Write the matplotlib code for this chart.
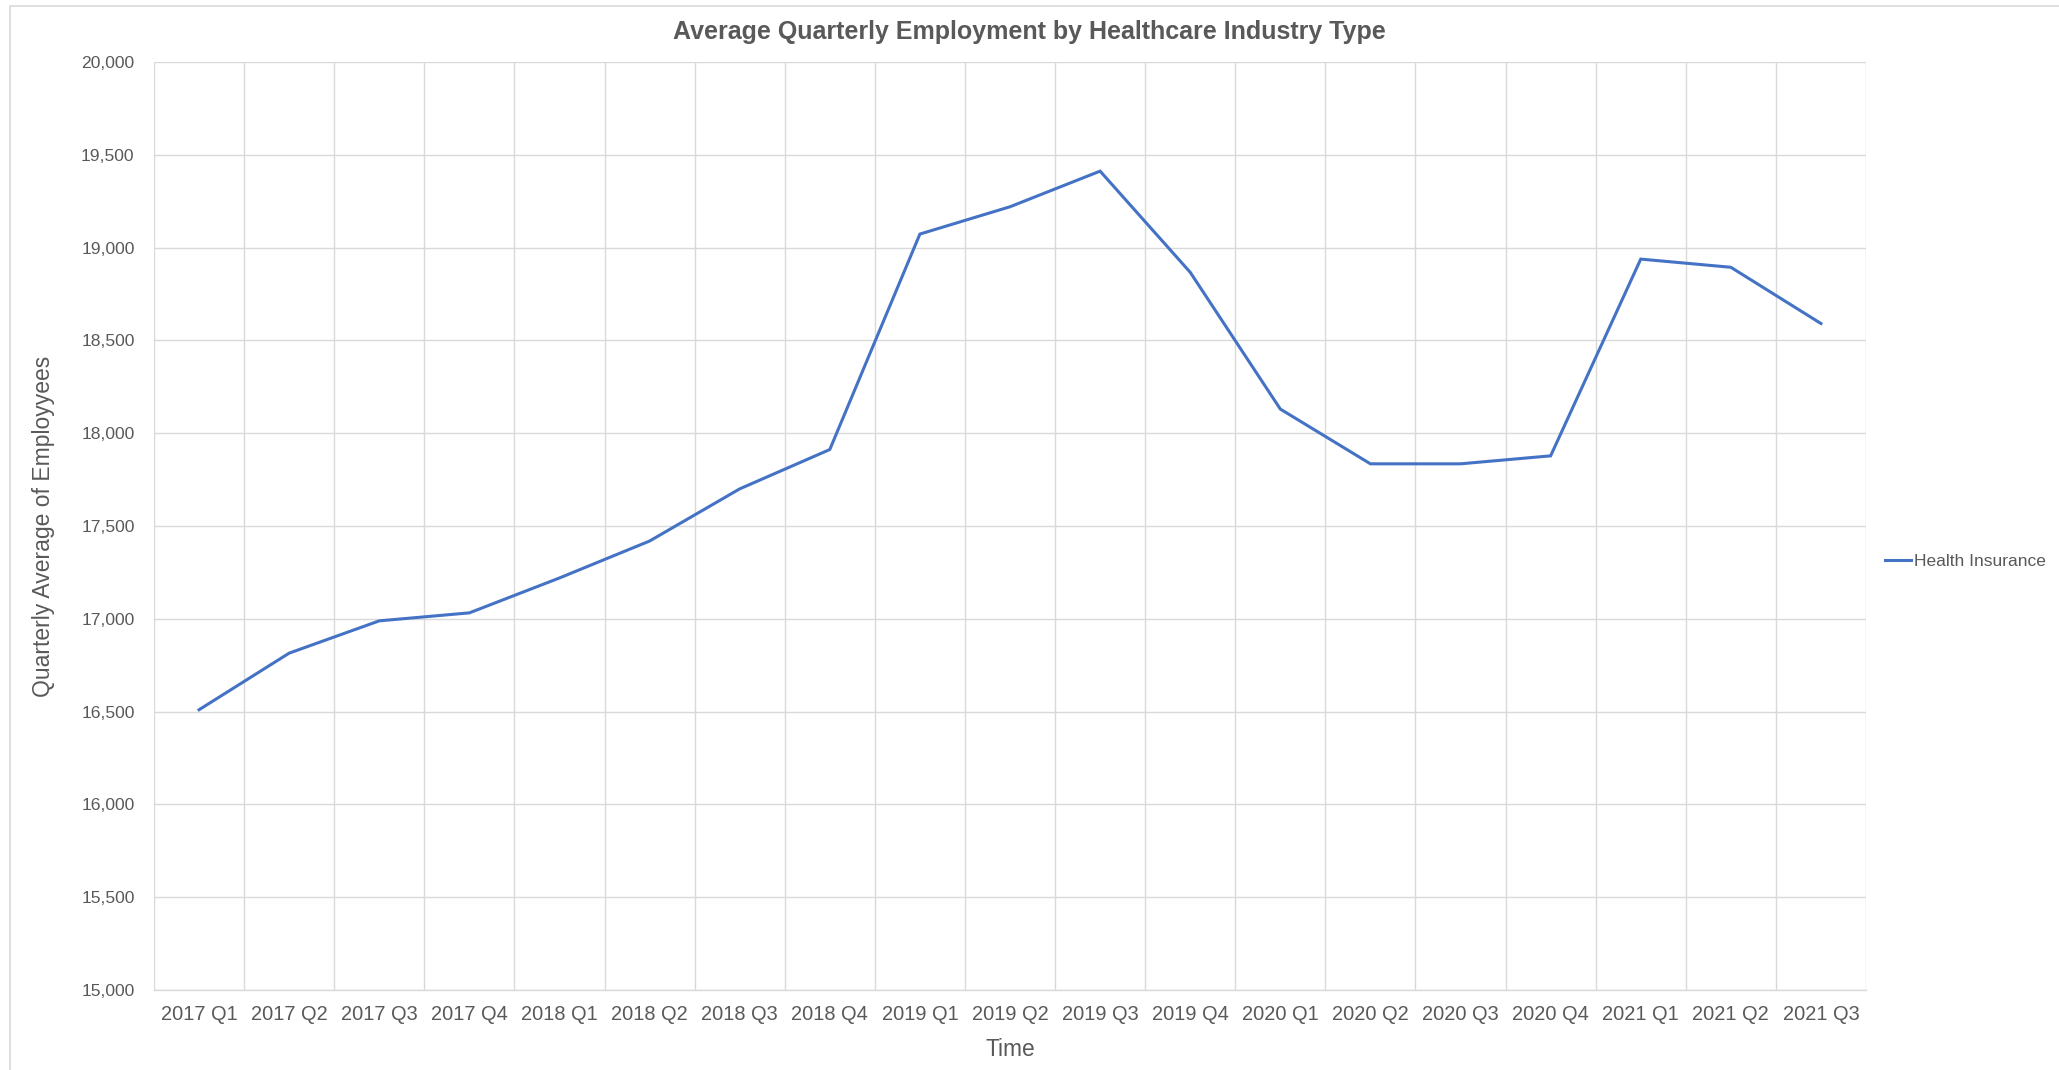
import matplotlib
matplotlib.use("Agg")
import matplotlib.pyplot as plt
import matplotlib.patches as patches
from matplotlib.ticker import FuncFormatter, MultipleLocator
import numpy as np

# quarters on the x axis
quarters = ["2017 Q1", "2017 Q2", "2017 Q3", "2017 Q4",
            "2018 Q1", "2018 Q2", "2018 Q3", "2018 Q4",
            "2019 Q1", "2019 Q2", "2019 Q3", "2019 Q4",
            "2020 Q1", "2020 Q2", "2020 Q3", "2020 Q4",
            "2021 Q1", "2021 Q2", "2021 Q3"]

# quarterly average of employees
health_insurance = [16510, 16815, 16989, 17032, 17220, 17419, 17700, 17912,
                    19073, 19220, 19412, 18867, 18130, 17835, 17835, 17878,
                    18938, 18894, 18591]

plt.rcParams['font.family'] = ['Liberation Sans', 'DejaVu Sans']
text_color = "#595959"
grid_color = "#D9D9D9"

fig = plt.figure(figsize=(20.59, 10.70), dpi=100)
ax = fig.add_axes([154 / 2059, 1 - 990 / 1070, (1866 - 154) / 2059, (990 - 62) / 1070])

x = np.arange(len(quarters))
ax.plot(x, health_insurance, color="#4472C4", linewidth=2.2, label="Health Insurance",
        solid_joinstyle="miter", zorder=3)

# axes limits + grid like excel
ax.set_xlim(-0.5, len(quarters) - 0.5)
ax.set_ylim(15000, 20000)
ax.yaxis.set_major_locator(MultipleLocator(500))
ax.yaxis.set_major_formatter(FuncFormatter(lambda v, p: f"{int(v):,}"))
ax.set_xticks(x)
ax.set_xticklabels(quarters)
ax.set_xticks(np.arange(-0.5, len(quarters)), minor=True)

ax.grid(axis="y", which="major", color=grid_color, linewidth=1.0)
ax.grid(axis="x", which="minor", color=grid_color, linewidth=1.0)
ax.set_axisbelow(True)
for side in ["top", "right", "left"]:
    ax.spines[side].set_visible(False)
ax.spines["bottom"].set_color(grid_color)
ax.spines["bottom"].set_linewidth(1.0)

ax.tick_params(axis="both", which="both", length=0, colors=text_color)
ax.tick_params(axis="y", labelsize=12.6, pad=14)
ax.tick_params(axis="x", labelsize=14.4, pad=11)

# titles and labels
fig.text(0.5, 1 - 32 / 1070, "Average Quarterly Employment by Healthcare Industry Type",
         ha="center", va="center", fontsize=18, fontweight="bold", color=text_color)
fig.text(44 / 2059, 1 - 526 / 1070, "Quarterly Average of Employyees", rotation=90,
         ha="center", va="center", fontsize=16.5, color=text_color)
fig.text(1010 / 2059, 1 - 1049 / 1070, "Time", ha="center", va="center",
         fontsize=16.4, color=text_color)

leg = ax.legend(loc="center left", bbox_to_anchor=(1885 / 2059, 1 - 561 / 1070),
                bbox_transform=fig.transFigure, frameon=False, fontsize=12.5,
                handlelength=1.5, handletextpad=0.15, borderpad=0, borderaxespad=0)
for t in leg.get_texts():
    t.set_color(text_color)

# light chart border
fig.patches.append(patches.Rectangle((10 / 2059, -0.05), 1.1, 1.05 - 6 / 1070,
                                     transform=fig.transFigure, fill=False,
                                     edgecolor=grid_color, linewidth=1.2))

fig.savefig("out.png", dpi=100)
